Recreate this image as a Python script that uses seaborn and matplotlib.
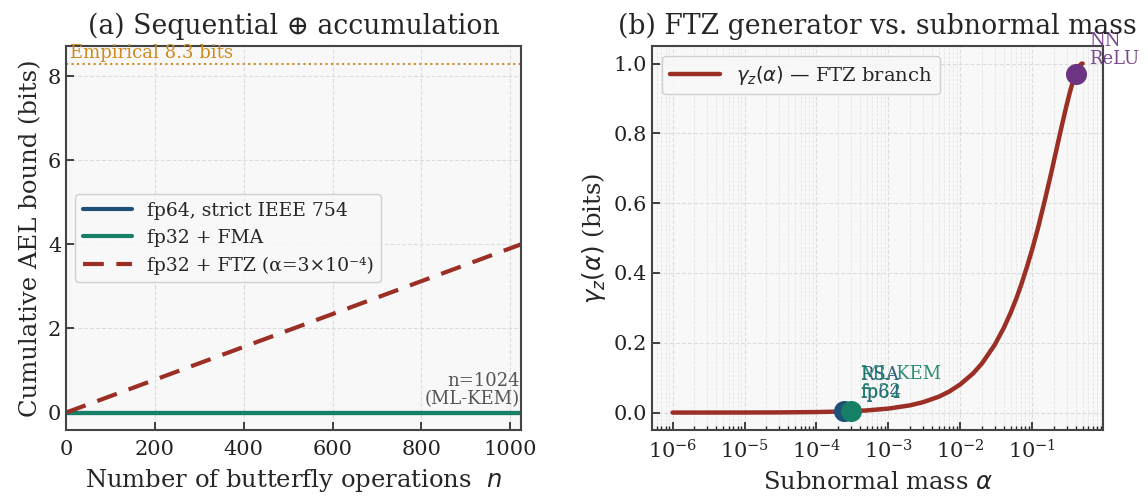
import numpy as np
import pandas as pd
import matplotlib
matplotlib.use('Agg')
import matplotlib.pyplot as plt
import seaborn as sns

sns.set_theme(style='whitegrid')
plt.rcParams.update({
    'font.family': ['DejaVu Serif', 'DejaVu Sans'],
    'mathtext.fontset': 'dejavusans',
    'axes.facecolor': '#f8f8f8',
    'axes.edgecolor': '#444444',
    'axes.linewidth': 1.5,
    'grid.color': '#dddddd',
    'grid.linestyle': '--',
    'grid.linewidth': 0.8,
    'xtick.direction': 'in',
    'ytick.direction': 'in',
    'xtick.bottom': True,
    'ytick.left': True,
    'xtick.color': '#222222',
    'ytick.color': '#222222',
    'axes.unicode_minus': False,
})

# panel (a): cumulative AEL bound vs number of butterfly ops
n_ops = [0, 1024]
ael_fp64 = [0.0, 0.0]
ael_fma = [0.0, 0.0]
ael_ftz = [0.0, 4.0]
empirical_bits = 8.3

# panel (b): FTZ generator curve
alpha_curve = [1e-6, 3e-6, 1e-5, 3e-5, 1e-4, 2e-4, 3e-4, 5e-4, 1e-3, 2e-3, 3e-3, 5e-3,
               7e-3, 1e-2, 1.5e-2, 2e-2, 3e-2, 4e-2, 5e-2, 6e-2, 7e-2, 8.5e-2, 0.1, 0.12,
               0.15, 0.18, 0.2, 0.23, 0.25, 0.28, 0.3, 0.33, 0.35, 0.38, 0.4, 0.43,
               0.45, 0.48, 0.5]
gamma_curve = [0.00002, 0.00006, 0.00018, 0.00049, 0.0015, 0.0028, 0.0039, 0.0062, 0.0114,
               0.0208, 0.0295, 0.0454, 0.0602, 0.081, 0.112, 0.141, 0.194, 0.242, 0.286,
               0.327, 0.366, 0.420, 0.469, 0.529, 0.610, 0.680, 0.722, 0.778, 0.811,
               0.855, 0.881, 0.915, 0.934, 0.958, 0.971, 0.986, 0.993, 0.999, 1.0]

sys_names = ['RSA\nfp64', 'ML-KEM\nfp32', 'NN\nReLU']
sys_alpha = [2.4e-4, 3e-4, 0.4]
sys_gamma = [0.0032, 0.0039, 0.971]

c_blue = '#1f5078'
c_green = '#168066'
c_red = '#9b2f25'
c_purple = '#6c3483'
c_orange = '#d08a1e'

fig = plt.figure(figsize=(11.48, 4.98), dpi=100)
ax1 = fig.add_axes([0.0575, 0.1365, 0.3963, 0.771])
ax2 = fig.add_axes([0.568, 0.1365, 0.3929, 0.771])

# ---- (a)
df_a = pd.DataFrame({'n': n_ops, 'fp64': ael_fp64, 'fma': ael_fma, 'ftz': ael_ftz})
sns.lineplot(data=df_a, x='n', y='fp64', ax=ax1, color=c_blue, lw=3,
             label='fp64, strict IEEE 754')
sns.lineplot(data=df_a, x='n', y='fma', ax=ax1, color=c_green, lw=3,
             label='fp32 + FMA')
sns.lineplot(data=df_a, x='n', y='ftz', ax=ax1, color=c_red, lw=3,
             linestyle=(0, (5, 3)), label='fp32 + FTZ (α=3×10⁻⁴)')
ax1.axhline(empirical_bits, color=c_orange, ls=':', lw=1.5)
ax1.text(10, empirical_bits + 0.04, f'Empirical {empirical_bits} bits', color=c_orange,
         fontsize=13, va='bottom', ha='left')
ax1.axvline(1024, color='#999999', ls=':', lw=1.2)
ax1.text(1022, 0.1, 'n=1024\n(ML-KEM)', color='#555555', fontsize=13,
         ha='right', va='bottom', linespacing=1.0)
ax1.set_xlim(0, 1024)
ax1.set_xticks([0, 200, 400, 600, 800, 1000])
ax1.set_yticks([0, 2, 4, 6, 8])
ax1.set_xlabel('Number of butterfly operations  $n$', fontsize=17.5, labelpad=6)
ax1.set_ylabel('Cumulative AEL bound (bits)', fontsize=17.5)
ax1.set_title('(a) Sequential ⊕ accumulation', fontsize=19.2, pad=9)
ax1.tick_params(labelsize=15, length=6, width=1.2)
ax1.tick_params(axis='x', pad=7)
ax1.legend(loc='center left', fontsize=13.5, frameon=True, facecolor='#f8f8f8',
           edgecolor='#cccccc', handlelength=2.6, framealpha=0.9)

# ---- (b)
df_b = pd.DataFrame({'alpha': alpha_curve, 'gamma': gamma_curve})
sns.lineplot(data=df_b, x='alpha', y='gamma', ax=ax2, color=c_red, lw=3.2,
             label=r'$\gamma_z(\alpha)$ — FTZ branch')
ax2.set_xscale('log')
sys_colors = [c_blue, c_green, c_purple]
offsets = [(12, 7), (7, 7), (10, 4)]
for name, a, g, c, off in zip(sys_names, sys_alpha, sys_gamma, sys_colors, offsets):
    ax2.scatter([a], [g], s=200, color=c, zorder=5)
    ax2.annotate(name, (a, g), xytext=off, textcoords='offset points', color=c,
                 fontsize=13, ha='left', va='bottom', alpha=0.9, linespacing=1.0)
ax2.grid(True, which='major', ls='--', color='#dddddd')
ax2.grid(True, which='minor', axis='x', ls='--', color='#e6e6e6', lw=0.6)
ax2.set_yticks([0.0, 0.2, 0.4, 0.6, 0.8, 1.0])
ax2.set_xlabel(r'Subnormal mass $\alpha$', fontsize=17.5, labelpad=6)
ax2.set_ylabel(r'$\gamma_z(\alpha)$ (bits)', fontsize=17.5)
ax2.set_title('(b) FTZ generator vs. subnormal mass', fontsize=19.2, pad=9)
ax2.tick_params(labelsize=15, length=6, width=1.2)
ax2.tick_params(axis='x', pad=7)
ax2.tick_params(which='minor', direction='in', length=3, bottom=True)
ax2.legend(loc='upper left', fontsize=14, frameon=True, facecolor='#f8f8f8',
           edgecolor='#cccccc', handlelength=2.6, framealpha=0.9)

fig.savefig('out.png', dpi=100)
